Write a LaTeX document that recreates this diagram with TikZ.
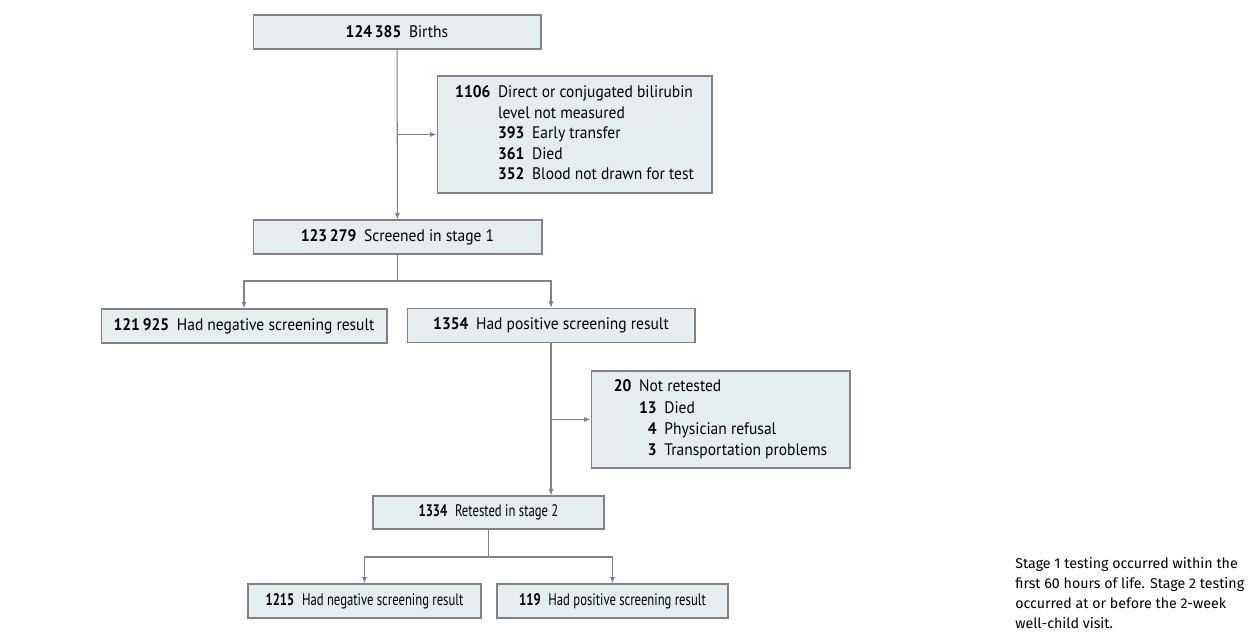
\documentclass[tikz,border=0pt]{standalone}
\usepackage{fontspec}
\setmainfont{Fira Sans}
\newfontfamily\boxfont[FakeStretch=0.93]{PT Sans}
\newfontfamily\narrowfont[FakeStretch=0.76]{PT Sans}
\usetikzlibrary{arrows.meta,
                positioning}
\definecolor{boxfill}{RGB}{230,237,241}
\definecolor{linegray}{RGB}{130,130,130}
\newcommand{\num}[1]{\textbf{#1}\hspace{0.46em}}

\begin{document}
\begin{tikzpicture}[x=0.02cm, y=-0.02cm,
                flowbox/.style={draw=linegray, fill=boxfill, line width=0.6pt,
                                minimum height=0.68cm, inner sep=0pt,
                                font=\boxfont\fontsize{9.5}{11.4}\selectfont},
                narrowbox/.style={flowbox, font=\narrowfont\fontsize{9.5}{11.4}\selectfont},
                flow/.style={draw=linegray, line width=0.6pt},
                flowarrow/.style={flow, -{Latex[length=1.3mm,width=1mm]}}]
                \useasboundingbox (0,0) rectangle (1249,641);
                % stage 1
                \node [flowbox, minimum width=5.76cm] (births) at (397,32) {\num{124\,385}Births};
                \node [flowbox, minimum width=5.50cm, minimum height=2.34cm] (excl1) at (574.5,134.5)
                    {\renewcommand{\arraystretch}{1.02}%
                     \begin{tabular}{@{}r@{\hspace{0.46em}}l@{}}
                     \textbf{1106} & Direct or conjugated bilirubin\\
                                   & level not measured\\
                                   & \begin{tabular}{@{}r@{\hspace{0.46em}}l@{}}
                                     \textbf{393} & Early transfer\\
                                     \textbf{361} & Died\\
                                     \textbf{352} & Blood not drawn for test
                                     \end{tabular}
                     \end{tabular}};
                \node [flowbox, minimum width=5.78cm] (screened) at (397.5,237) {\num{123\,279}Screened in stage 1};
                \node [flowbox, minimum width=5.72cm] (neg1) at (244,326) {\num{121\,925}Had negative screening result};
                \node [flowbox, minimum width=5.76cm] (pos1) at (551,325.5) {\num{1354}Had positive screening result};
                % stage 2
                \node [flowbox, minimum width=5.18cm, minimum height=1.94cm] (excl2) at (720.5,419.5)
                    {\renewcommand{\arraystretch}{1.07}%
                     \begin{tabular}{@{}r@{\hspace{0.46em}}l@{}}
                     \textbf{20} & Not retested\\
                                 & \begin{tabular}{@{}r@{\hspace{0.46em}}l@{}}
                                   \textbf{13} & Died\\
                                   \textbf{4} & Physician refusal\\
                                   \textbf{3} & Transportation problems
                                   \end{tabular}
                     \end{tabular}};
                \node [narrowbox, minimum width=4.62cm, minimum height=0.66cm] (retested) at (488.5,512.5) {\num{1334}Retested in stage 2};
                \node [narrowbox, minimum width=4.66cm] (neg2) at (364.5,601) {\num{1215}Had negative screening result};
                \node [narrowbox, minimum width=4.62cm] (pos2) at (612.5,601) {\num{119}Had positive screening result};
                \node [anchor=west, align=left, inner sep=0pt, font=\fontsize{8.1}{11.4}\selectfont] (note) at (1015,593)
                    {Stage 1 testing occurred within the\\first 60 hours of life. Stage 2 testing\\occurred at or before the 2-week\\well-child visit.};
                % connectors
                \coordinate (split1) at (397.5,281);
                \coordinate (split2) at (488.5,557);
                \draw [flowarrow] (births) -- (screened);
                \draw [flowarrow] (births.south |- excl1.west) -- (excl1.west);
                \draw [flow] (screened) -- (split1);
                \draw [flowarrow] (split1) -| (neg1.north);
                \draw [flowarrow] (split1) -| (pos1.north);
                \draw [flowarrow] (pos1.south) -- (pos1.south |- retested.north);
                \draw [flowarrow] (pos1.south |- excl2.west) -- (excl2.west);
                \draw [flow] (retested) -- (split2);
                \draw [flowarrow] (split2) -| (neg2.north);
                \draw [flowarrow] (split2) -| (pos2.north);
\end{tikzpicture}
\end{document}
